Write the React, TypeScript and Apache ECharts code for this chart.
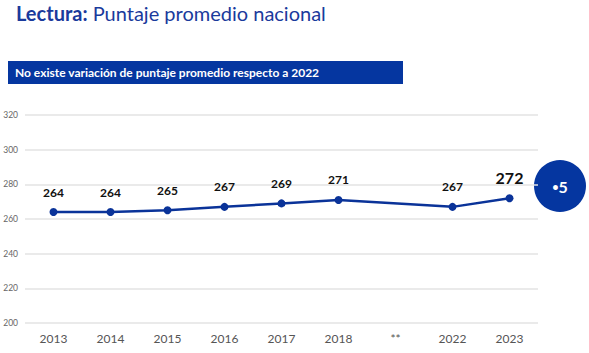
import React, { useEffect, useRef } from "react";
import * as echarts from "echarts";

const categories = ["2013", "2014", "2015", "2016", "2017", "2018", "**", "2022", "2023"];
const scores: (number | null)[] = [264, 264, 265, 267, 269, 271, null, 267, 272];
const yTicks = { min: 200, max: 320, interval: 20 };
const titleBold = "Lectura:";
const titleRest = " Puntaje promedio nacional";
const bannerText = "No existe variación de puntaje promedio respecto a 2022";
const badgeDot = "•";
const badgeValue = "5";

const BLUE = "#0a3399";
const FONT = "Lato, 'Open Sans', sans-serif";

export default function App() {
  const ref = useRef<HTMLDivElement>(null);
  useEffect(() => {
    if (!ref.current) return;
    const chart = echarts.init(ref.current, null, { renderer: "svg" });
    const lastIdx = scores.length - 1;
    chart.setOption({
      animation: false,
      backgroundColor: "#ffffff",
      textStyle: { fontFamily: FONT },
      grid: {
        left: 25,
        right: 51,
        top: 115,
        bottom: 30,
        containLabel: false,
        outerBoundsMode: "none",
      },
      xAxis: {
        type: "category",
        data: categories,
        boundaryGap: true,
        axisLine: { show: false },
        axisTick: { show: false },
        axisLabel: { color: "#555", fontSize: 12, margin: 9, fontFamily: FONT },
      },
      yAxis: {
        type: "value",
        min: yTicks.min,
        max: yTicks.max,
        interval: yTicks.interval,
        axisLine: { show: false },
        axisTick: { show: false },
        axisLabel: { color: "#666", fontSize: 8.5, margin: 7, fontFamily: FONT },
        splitLine: { lineStyle: { color: "#e3e3e3", width: 1.5 } },
      },
      series: [
        {
          type: "line",
          data: scores.map((v, i) =>
            i === lastIdx
              ? { value: v, label: { fontSize: 16, distance: 9 } }
              : v
          ),
          connectNulls: true,
          lineStyle: { color: BLUE, width: 2.5 },
          itemStyle: { color: BLUE },
          symbol: "circle",
          symbolSize: 8,
          label: {
            show: true,
            position: "top",
            distance: 10,
            color: "#111",
            fontWeight: "bold",
            fontSize: 12,
            fontFamily: FONT,
          },
        },
      ],
      graphic: [
        {
          type: "text",
          left: 16,
          top: 3,
          style: {
            rich: {
              b: { fontSize: 20, fontWeight: "bold", fill: "#1a3a9c", fontFamily: FONT },
              n: { fontSize: 20, fill: "#1a3a9c", fontFamily: FONT },
            },
            text: `{b|${titleBold}}{n|${titleRest}}`,
          },
        },
        {
          type: "rect",
          shape: { x: 8, y: 61, width: 395, height: 23 },
          style: { fill: "#0536a0" },
        },
        {
          type: "text",
          x: 15,
          y: 72.5,
          style: {
            text: bannerText,
            fill: "#ffffff",
            fontSize: 12,
            fontWeight: "bold",
            fontFamily: FONT,
            verticalAlign: "middle",
          },
        },
        {
          type: "circle",
          shape: { cx: 560, cy: 186, r: 26 },
          style: { fill: "#0536a0" },
        },
        {
          type: "text",
          x: 560,
          y: 186,
          style: {
            rich: {
              d: { fontSize: 11, fill: "#ffffff", fontFamily: FONT, fontWeight: "bold" },
              v: { fontSize: 16, fill: "#ffffff", fontFamily: FONT, fontWeight: "bold" },
            },
            text: `{d|${badgeDot}}{v|${badgeValue}}`,
            align: "center",
            verticalAlign: "middle",
          },
        },
      ],
    });
    return () => chart.dispose();
  }, []);
  return <div ref={ref} style={{ width: 589, height: 353, position: "absolute", left: 0, top: 0 }} />;
}
